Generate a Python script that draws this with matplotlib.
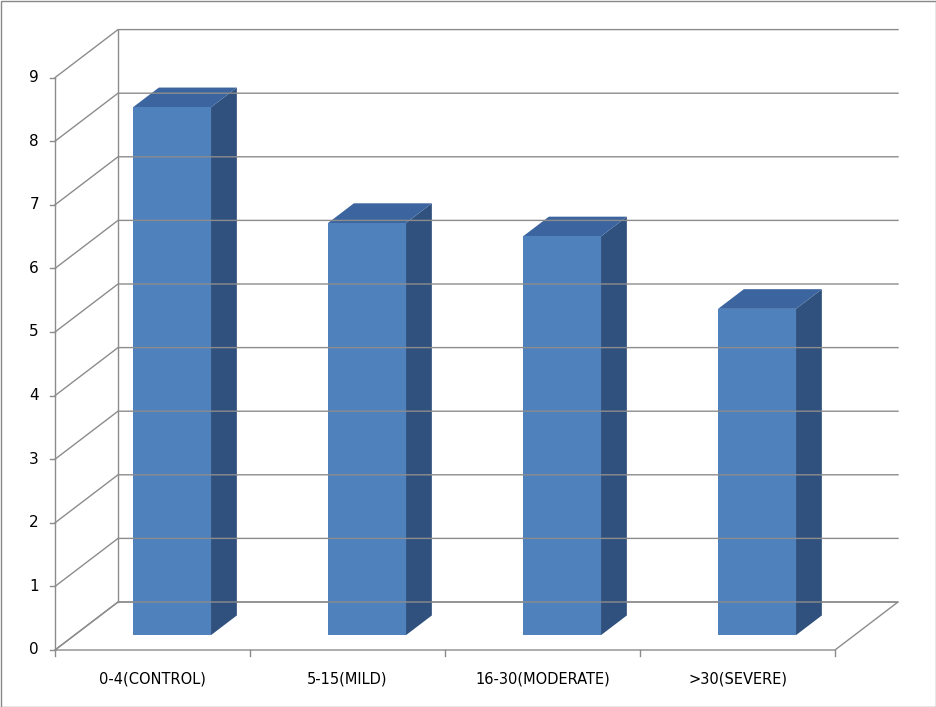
import matplotlib
matplotlib.use("Agg")
import matplotlib.pyplot as plt
from matplotlib.patches import Polygon

categories = ["0-4(CONTROL)", "5-15(MILD)", "16-30(MODERATE)", ">30(SEVERE)"]
values = [8.3, 6.48, 6.27, 5.13]
yticks = list(range(0, 10))

fig = plt.figure(figsize=(9.36, 7.07), dpi=100)
ax = fig.add_axes([0, 0, 1, 1])
ax.set_xlim(0, 936); ax.set_ylim(707, 0); ax.axis("off")

X0, Y0, SX, SY, DX, DY = 55, 650, 195, 63.6, 63, 48
def P(xc, v, d):
    return (X0 + xc * SX + d * DX, Y0 - v * SY - d * DY)

g = "#8c8c8c"
n = len(categories)
# back wall gridlines and left wall
for v in yticks:
    a, b, c = P(0, v, 0), P(0, v, 1), P(n, v, 1)
    ax.plot([a[0], b[0], c[0]], [a[1], b[1], c[1]], color=g, lw=1)
# floor
fl = [P(0, 0, 0), P(n, 0, 0), P(n, 0, 1), P(0, 0, 1)]
ax.add_patch(Polygon(fl, closed=True, fill=False, edgecolor=g, lw=1))
a, b = P(0, 0, 1), P(0, 9, 1)
ax.plot([a[0], b[0]], [a[1], b[1]], color=g, lw=1)
# axes
a, b = P(0, 0, 0), P(0, 9, 0)
ax.plot([a[0], b[0]], [a[1], b[1]], color=g, lw=1)
for v in yticks:
    p = P(0, v, 0)
    ax.plot([p[0] - 5, p[0]], [p[1], p[1]], color=g, lw=1)
    ax.text(p[0] - 16, p[1], str(v), ha="right", va="center", fontsize=11)
for i in range(n + 1):
    p = P(i, 0, 0)
    ax.plot([p[0], p[0]], [p[1], p[1] + 6], color=g, lw=1)

d0, d1, w = 0.31, 0.72, 0.4
front, side, top = "#4F81BD", "#30517D", "#3C65A0"
for i, (cat, v) in enumerate(zip(categories, values)):
    l, r = i + 0.5 - w / 2, i + 0.5 + w / 2
    ax.add_patch(Polygon([P(r, 0, d0), P(r, 0, d1), P(r, v, d1), P(r, v, d0)], color=side, lw=0))
    ax.add_patch(Polygon([P(l, v, d0), P(r, v, d0), P(r, v, d1), P(l, v, d1)], color=top, lw=0))
    ax.add_patch(Polygon([P(l, 0, d0), P(r, 0, d0), P(r, v, d0), P(l, v, d0)], color=front, lw=0))
    p = P(i + 0.5, 0, 0)
    ax.text(p[0], p[1] + 29, cat, ha="center", va="center", fontsize=10.5)

ax.add_patch(plt.Rectangle((0.5, 0.5), 935, 706, fill=False, edgecolor="#888888", lw=1))
fig.savefig("out.png", dpi=100)
